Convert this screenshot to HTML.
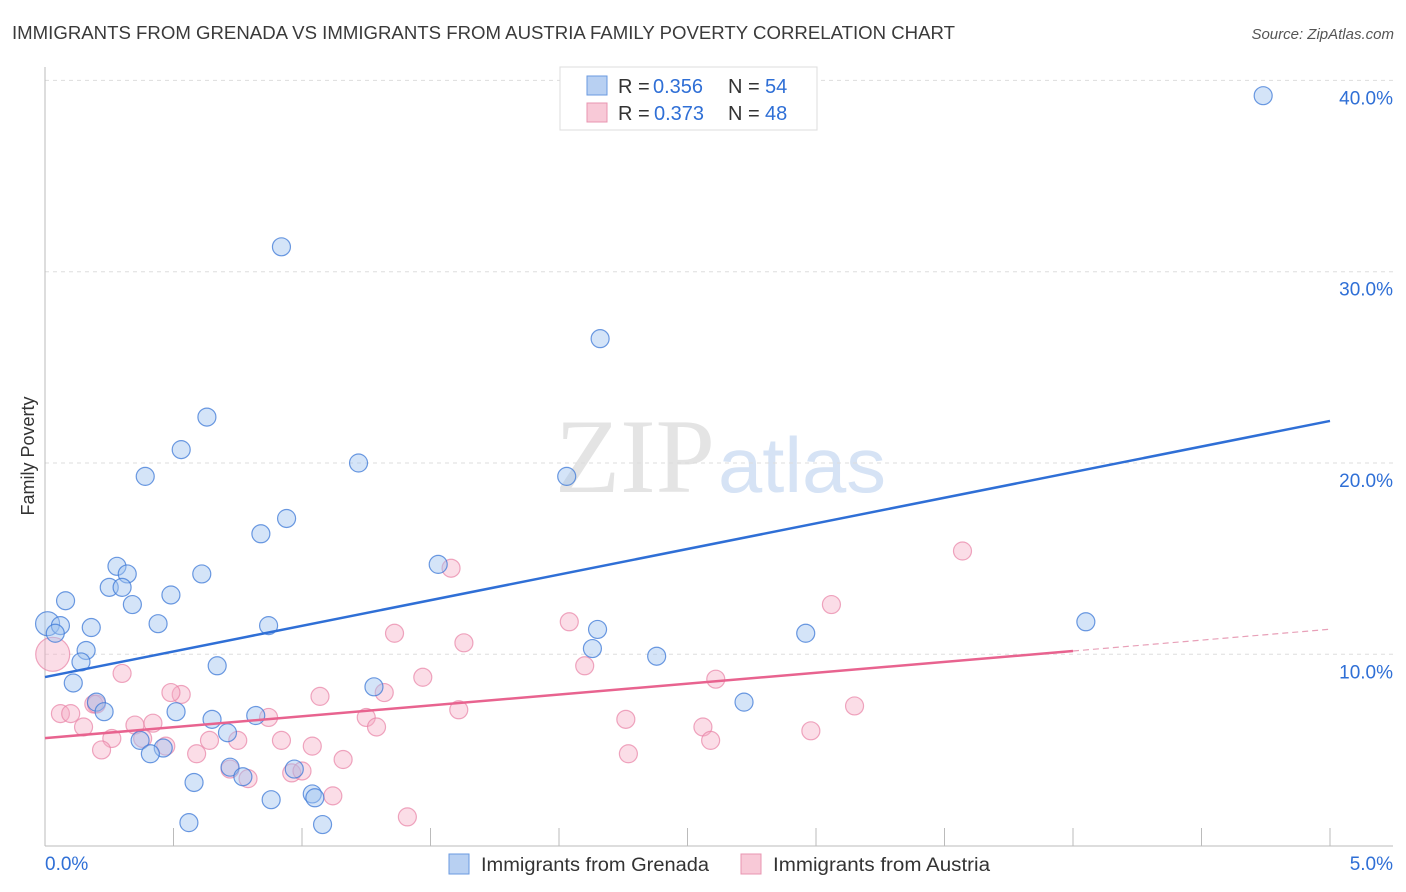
<!DOCTYPE html>
<html><head><meta charset="utf-8"><style>
body{margin:0;background:#fff;font-family:"Liberation Sans",sans-serif}
svg{display:block}
</style></head><body>
<svg id="chart" width="1406" height="892">
<text x="12" y="39" font-size="18" fill="#3a3a3a" textLength="943" lengthAdjust="spacingAndGlyphs">IMMIGRANTS FROM GRENADA VS IMMIGRANTS FROM AUSTRIA FAMILY POVERTY CORRELATION CHART</text>
<text x="1394" y="39" font-size="15" fill="#555" font-style="italic" text-anchor="end">Source: ZipAtlas.com</text>
<text x="555" y="492" font-size="106" fill="#e4e4e4" font-family="Liberation Serif,serif" textLength="160" lengthAdjust="spacingAndGlyphs">ZIP</text>
<text x="718" y="492" font-size="78" fill="#d6e3f5" textLength="168" lengthAdjust="spacingAndGlyphs">atlas</text>
<text x="34" y="456" font-size="18" fill="#333" text-anchor="middle" transform="rotate(-90 34 456)">Family Poverty</text>
<g id="grid"></g><g id="pts"></g><g id="lines"></g>
<g>
<rect x="560" y="67" width="257" height="63" fill="#fff" stroke="#ddd"/>
<rect x="587" y="76" width="20" height="19" fill="#b8d0f2" stroke="#6a9ae0"/>
<rect x="587" y="103" width="20" height="19" fill="#f8c9d7" stroke="#e895b0"/>
<text y="93" font-size="20" fill="#333"><tspan x="618">R =</tspan><tspan x="653" fill="#2f6fd6">0.356</tspan><tspan x="728">N =</tspan><tspan x="765" fill="#2f6fd6">54</tspan></text>
<text y="120" font-size="20" fill="#333"><tspan x="618">R =</tspan><tspan x="654" fill="#2f6fd6">0.373</tspan><tspan x="728">N =</tspan><tspan x="765" fill="#2f6fd6">48</tspan></text>
</g>
<g>
<rect x="449" y="854" width="20" height="20" fill="#b8d0f2" stroke="#6a9ae0"/>
<text x="481" y="871" font-size="19" fill="#333" textLength="228" lengthAdjust="spacingAndGlyphs">Immigrants from Grenada</text>
<rect x="741" y="854" width="20" height="20" fill="#f8c9d7" stroke="#e895b0"/>
<text x="773" y="871" font-size="19" fill="#333" textLength="217" lengthAdjust="spacingAndGlyphs">Immigrants from Austria</text>
</g>
</svg>
<script>
const yTicks=[10,20,30,40];
const xTickLabels=["0.0%","5.0%"];
const blueX=[4.74,0.92,2.16,0.63,0.53,1.22,0.39,2.03,0.94,0.84,1.53,0.28,0.32,0.61,0.25,0.30,0.08,0.34,0.49,0.01,0.06,0.04,0.18,0.44,0.87,2.15,4.05,2.96,2.13,0.16,2.38,0.14,0.67,0.11,1.28,0.20,0.23,2.72,0.51,0.65,0.82,0.71,0.37,0.46,0.41,0.72,0.97,0.77,0.58,1.04,1.05,0.88,0.56,1.08];
const blueY=[39.2,31.3,26.5,22.4,20.7,20.0,19.3,19.3,17.1,16.3,14.7,14.6,14.2,14.2,13.5,13.5,12.8,12.6,13.1,11.6,11.5,11.1,11.4,11.6,11.5,11.3,11.7,11.1,10.3,10.2,9.9,9.6,9.4,8.5,8.3,7.5,7.0,7.5,7.0,6.6,6.8,5.9,5.5,5.1,4.8,4.1,4.0,3.6,3.3,2.7,2.5,2.4,1.2,1.1];
const blueR=[9,9,9,9,9,9,9,9,9,9,9,9,9,9,9,9,9,9,9,12,9,9,9,9,9,9,9,9,9,9,9,9,9,9,9,9,9,9,9,9,9,9,9,9,9,9,9,9,9,9,9,9,9,9];
const pinkX=[0.03,3.57,1.58,3.06,2.04,1.36,1.63,2.10,0.30,1.47,2.61,0.19,0.53,0.49,1.07,1.32,3.15,1.61,0.06,0.10,2.26,0.15,1.25,0.87,0.35,0.42,2.56,1.29,0.26,0.64,0.75,0.92,2.59,0.47,1.04,0.22,0.59,2.27,2.98,1.16,0.72,0.79,0.96,1.00,1.12,1.41,0.38,0.20];
const pinkY=[10.0,15.4,14.5,12.6,11.7,11.1,10.6,9.4,9.0,8.8,8.7,7.4,7.9,8.0,7.8,8.0,7.3,7.1,6.9,6.9,6.6,6.2,6.7,6.7,6.3,6.4,6.2,6.2,5.6,5.5,5.5,5.5,5.5,5.2,5.2,5.0,4.8,4.8,6.0,4.5,4.0,3.5,3.8,3.9,2.6,1.5,5.6,7.4];
const pinkR=[17,9,9,9,9,9,9,9,9,9,9,9,9,9,9,9,9,9,9,9,9,9,9,9,9,9,9,9,9,9,9,9,9,9,9,9,9,9,9,9,9,9,9,9,9,9,9,9];
const blueLine=[8.81,22.2];
const pinkLine=[5.62,11.31];
const pinkSolidEnd=4.0;
const NS="http://www.w3.org/2000/svg";
const X0=45,X1=1330,YB=845.6,PY=19.13;
function sx(v){return X0+(v/5)*(X1-X0);}
function sy(v){return YB-v*PY;}
function mk(t,a,p){const e=document.createElementNS(NS,t);for(const k in a)e.setAttribute(k,a[k]);p.appendChild(e);return e;}
const grid=document.getElementById('grid');
yTicks.forEach(t=>{
 const l=mk('line',{x1:45,x2:1393,y1:sy(t),y2:sy(t),stroke:'#ddd','stroke-dasharray':'4,4'},grid);
 
 
 const tx=mk('text',{x:1393,y:sy(t)+24,'font-size':19,fill:'#2f6fd6','text-anchor':'end'},grid);
 tx.textContent=t.toFixed(1)+'%';
 
 
});
const ax=mk('line',{x1:45,x2:45,y1:67,y2:846,stroke:'#bbb'},grid);


const xa=mk('line',{x1:45,x2:1393,y1:846,y2:846,stroke:'#bbb'},grid);


for(let i=1;i<=10;i++){const t=mk('line',{x1:sx(i*0.5),x2:sx(i*0.5),y1:828,y2:846,stroke:'#bbb'},grid);
 
 }
[[0,45,'start'],[1,1393,'end']].forEach(([i,x,a])=>{const t=mk('text',{x:x,y:870,'font-size':19,fill:'#2f6fd6','text-anchor':a},grid);t.textContent=xTickLabels[i];
 
 });
const pts=document.getElementById('pts');
pinkX.forEach((v,i)=>{const c=mk('circle',{cx:sx(v),cy:sy(pinkY[i]),r:pinkR[i],fill:'rgba(244,170,195,0.4)',stroke:'rgba(232,130,165,0.7)','stroke-width':1.2},pts);
 
 });
blueX.forEach((v,i)=>{const c=mk('circle',{cx:sx(v),cy:sy(blueY[i]),r:blueR[i],fill:'rgba(160,195,240,0.45)',stroke:'rgba(60,120,215,0.75)','stroke-width':1.2},pts);
 
 });
const lines=document.getElementById('lines');
const bl=mk('line',{x1:sx(0),y1:sy(blueLine[0]),x2:sx(5),y2:sy(blueLine[1]),stroke:'#2f6fd6','stroke-width':2.5},lines);


const pm=(pinkLine[1]-pinkLine[0])/5;
const pl=mk('line',{x1:sx(0),y1:sy(pinkLine[0]),x2:sx(pinkSolidEnd),y2:sy(pinkLine[0]+pm*pinkSolidEnd),stroke:'#e8638f','stroke-width':2.5},lines);


const pd=mk('line',{x1:sx(pinkSolidEnd),y1:sy(pinkLine[0]+pm*pinkSolidEnd),x2:sx(5),y2:sy(pinkLine[1]),stroke:'#e8a0b8','stroke-width':1.2,'stroke-dasharray':'6,4'},lines);


</script>
</body></html>
